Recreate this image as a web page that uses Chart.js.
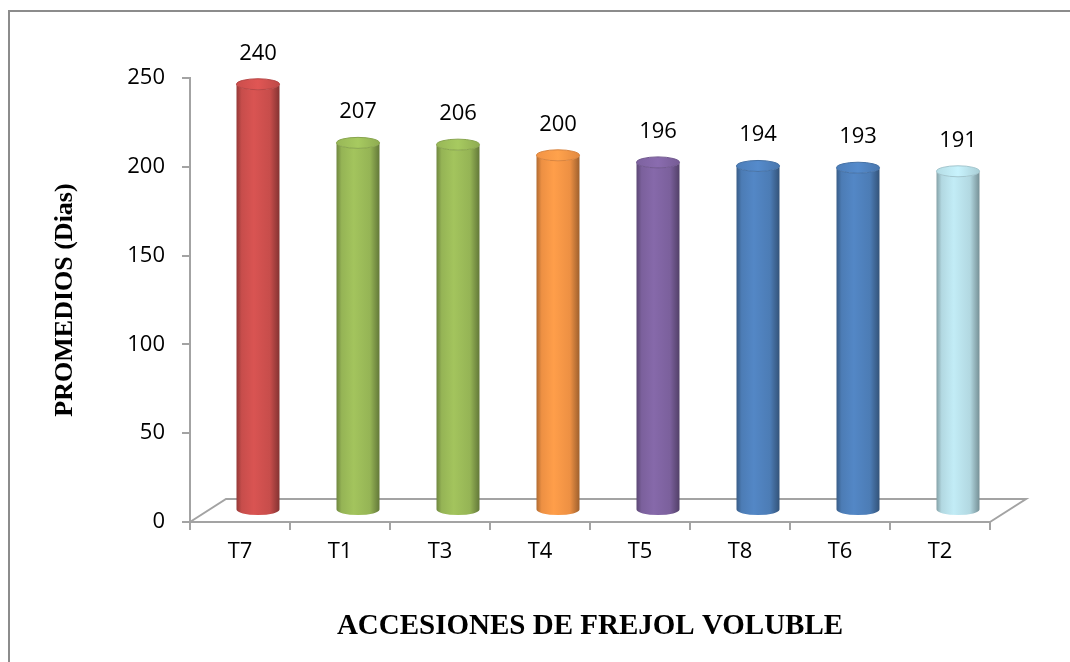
<!DOCTYPE html>
<html>
<head>
<meta charset="utf-8">
<script src="https://cdn.jsdelivr.net/npm/chart.js@4"></script>
<style>
  html, body { margin: 0; padding: 0; background: #fff; overflow: hidden; }
  canvas { display: block; }
</style>
</head>
<body>
<canvas id="promediosChart" width="1070" height="662"></canvas>
<script>
// Datos
const categories = ['T7', 'T1', 'T3', 'T4', 'T5', 'T8', 'T6', 'T2'];
const promedios = [240, 207, 206, 200, 196, 194, 193, 191];
const barColors = ['#CF504E', '#9BBB59', '#9BBB59', '#F79646', '#8064A2', '#4F81BD', '#4F81BD', '#B9E1EA'];
const yMin = 0;
const yMax = 250;
const yStep = 50;

// Profundidad del piso 3D (px)
const DEPTH_X = 36;
const DEPTH_Y = -23;
const AXIS_GREY = '#a3a3a3';
const LABEL_FONT = { family: 'Open Sans', size: 22 };

function shade(hex, f) {
    const n = parseInt(hex.slice(1), 16);
    const r = Math.min(255, Math.round(((n >> 16) & 255) * f));
    const g = Math.min(255, Math.round(((n >> 8) & 255) * f));
    const b = Math.min(255, Math.round((n & 255) * f));
    return `rgb(${r},${g},${b})`;
}

function drawCylinder(ctx, cx, top, bottom, rx, ry, color) {
    const grad = ctx.createLinearGradient(cx - rx, 0, cx + rx, 0);
    grad.addColorStop(0, shade(color, 0.72));
    grad.addColorStop(0.12, shade(color, 0.96));
    grad.addColorStop(0.4, shade(color, 1.05));
    grad.addColorStop(0.78, shade(color, 0.96));
    grad.addColorStop(1, shade(color, 0.64));

    ctx.fillStyle = grad;
    ctx.beginPath();
    ctx.moveTo(cx - rx, top);
    ctx.lineTo(cx - rx, bottom);
    ctx.ellipse(cx, bottom, rx, ry, 0, Math.PI, 0, true);
    ctx.lineTo(cx + rx, top);
    ctx.ellipse(cx, top, rx, ry, 0, 0, Math.PI, false);
    ctx.closePath();
    ctx.fill();

    // tapa superior
    const capGrad = ctx.createLinearGradient(cx - rx, 0, cx + rx, 0);
    capGrad.addColorStop(0, shade(color, 0.98));
    capGrad.addColorStop(0.5, shade(color, 1.08));
    capGrad.addColorStop(1, shade(color, 0.92));
    ctx.fillStyle = capGrad;
    ctx.strokeStyle = shade(color, 0.88);
    ctx.lineWidth = 1;
    ctx.beginPath();
    ctx.ellipse(cx, top, rx, ry, 0, 0, Math.PI * 2);
    ctx.fill();
    ctx.stroke();
}

// Marco exterior y fondo
const frame = {
    id: 'frame',
    beforeDraw(chart) {
        const ctx = chart.ctx;
        ctx.save();
        ctx.fillStyle = '#fff';
        ctx.fillRect(0, 0, chart.width, chart.height);
        ctx.strokeStyle = '#8c8c8c';
        ctx.lineWidth = 2;
        ctx.beginPath();
        ctx.moveTo(9, chart.height);
        ctx.lineTo(9, 11);
        ctx.lineTo(chart.width, 11);
        ctx.stroke();
        ctx.restore();
    }
};

// Piso en perspectiva
const floor = {
    id: 'floor',
    beforeDatasetsDraw(chart) {
        const { ctx, chartArea } = chart;
        const y0 = chart.scales.y.getPixelForValue(0);
        ctx.save();
        ctx.strokeStyle = AXIS_GREY;
        ctx.lineWidth = 2;
        ctx.beginPath();
        ctx.moveTo(chartArea.left, y0);
        ctx.lineTo(chartArea.left + DEPTH_X, y0 + DEPTH_Y);
        ctx.lineTo(chartArea.right + DEPTH_X, y0 + DEPTH_Y);
        ctx.lineTo(chartArea.right, y0);
        ctx.stroke();
        ctx.restore();
    }
};

// Barras cilíndricas y etiquetas de valor
const cylinders = {
    id: 'cylinders',
    afterDatasetsDraw(chart) {
        const ctx = chart.ctx;
        const meta = chart.getDatasetMeta(0);
        const values = chart.data.datasets[0].data;
        ctx.save();
        meta.data.forEach((bar, i) => {
            const { x, y, base, width } = bar.getProps(['x', 'y', 'base', 'width'], true);
            const cx = x + DEPTH_X / 2;
            const top = y + DEPTH_Y / 2;
            const bottom = base + DEPTH_Y / 2;
            drawCylinder(ctx, cx, top, bottom, width / 2, 5.5, barColors[i]);

            ctx.fillStyle = '#000';
            ctx.font = `${LABEL_FONT.size}px "${LABEL_FONT.family}"`;
            ctx.textAlign = 'center';
            ctx.textBaseline = 'middle';
            ctx.fillText(String(values[i]), cx, top - 31);
        });
        ctx.restore();
    }
};

const ctx = document.getElementById('promediosChart').getContext('2d');
new Chart(ctx, {
    type: 'bar',
    data: {
        labels: categories,
        datasets: [{
            data: promedios,
            backgroundColor: 'rgba(0,0,0,0)',
            borderWidth: 0,
            categoryPercentage: 1,
            barPercentage: 0.43
        }]
    },
    options: {
        responsive: false,
        animation: false,
        layout: { padding: { left: 0, top: 78, right: 80, bottom: 0 } },
        plugins: {
            legend: { display: false },
            tooltip: { enabled: false }
        },
        scales: {
            x: {
                offset: true,
                grid: { offset: true, drawOnChartArea: false, drawTicks: true, tickLength: 8, color: AXIS_GREY, lineWidth: 2 },
                border: { display: true, color: AXIS_GREY, width: 2 },
                ticks: { color: '#000', font: LABEL_FONT, padding: 9 },
                title: {
                    display: true,
                    text: 'ACCESIONES DE FREJOL VOLUBLE',
                    color: '#000',
                    font: { family: 'Liberation Serif', size: 29, weight: 'bold' },
                    padding: { top: 0, bottom: 18 }
                },
                afterFit(scale) { scale.height = 140; }
            },
            y: {
                min: yMin,
                max: yMax,
                ticks: { stepSize: yStep, color: '#000', font: LABEL_FONT, padding: 17 },
                grid: { drawOnChartArea: false, drawTicks: true, tickLength: 8, color: AXIS_GREY, lineWidth: 2 },
                border: { display: true, color: AXIS_GREY, width: 2 },
                title: {
                    display: true,
                    text: 'PROMEDIOS (Dias)',
                    color: '#000',
                    font: { family: 'Liberation Serif', size: 26, weight: 'bold' },
                    padding: { top: 50, bottom: 0 }
                },
                afterFit(scale) { scale.width = 190; }
            }
        }
    },
    plugins: [frame, floor, cylinders]
});
</script>
</body>
</html>
